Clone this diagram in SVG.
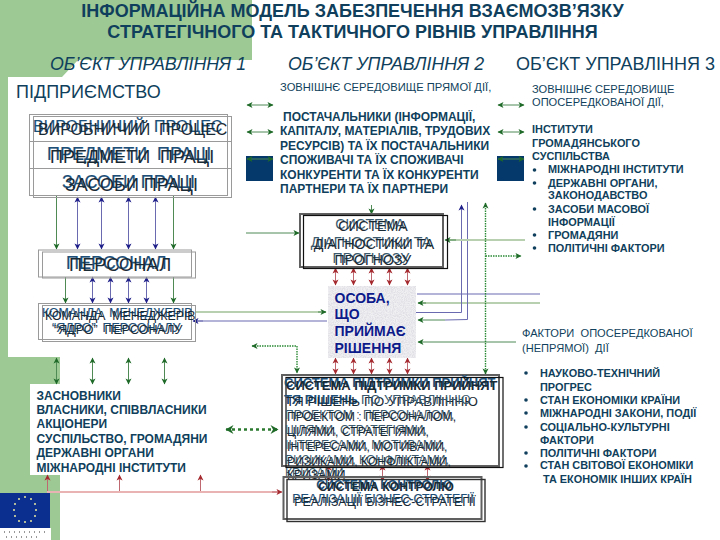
<svg xmlns="http://www.w3.org/2000/svg" width="720" height="540" viewBox="0 0 720 540">
<style>
text{font-family:"Liberation Sans",Arial,sans-serif;fill:#0f3f5c;white-space:pre}
.b{font-weight:bold}
.t1{fill:#1d4f78;stroke:#1d4f78;stroke-width:.2}
.t2{fill:#1a2a35}
.t3{fill:#3b5a6e}
.lab{font-size:12px;font-weight:bold}
.ext{font-size:10.9px;font-weight:bold}
.thin{font-size:11.1px}
.obj{font-size:18px}
.box{fill:none;stroke:#9a9a9a;stroke-width:1}
.gray{fill:none;stroke:#606060;stroke-width:2}
.blk{fill:none;stroke:#101010;stroke-width:1.2}
.g{fill:none;stroke:#4f8a55;stroke-width:1}
.bl{fill:none;stroke:#6a6ab0;stroke-width:1}
.pu{fill:none;stroke:#b4b4d8;stroke-width:2}
.lg{fill:none;stroke:#b9d0b0;stroke-width:2}
.r{fill:none;stroke:#c06870;stroke-width:1}
.pk{fill:none;stroke:#e9b3b3;stroke-width:2}
.d{fill:none;stroke:#2b8a35;stroke-width:1.4;stroke-dasharray:1.5 1}
.dd{fill:none;stroke:#2b7a30;stroke-width:2.4;stroke-dasharray:3 3}
.sq{fill:#05386b}
</style>
<defs>
<marker id="ag" markerWidth="7" markerHeight="7" refX="6" refY="3.5" orient="auto-start-reverse" markerUnits="userSpaceOnUse"><path d="M0.5 0.5L6.5 3.5L0.5 6.5L2 3.5Z" fill="#1f6a28"/></marker>
<marker id="ab" markerWidth="7" markerHeight="7" refX="6" refY="3.5" orient="auto-start-reverse" markerUnits="userSpaceOnUse"><path d="M0.5 0.5L6.5 3.5L0.5 6.5L2 3.5Z" fill="#1f1f8a"/></marker>
<marker id="ar" markerWidth="7" markerHeight="7" refX="6" refY="3.5" orient="auto-start-reverse" markerUnits="userSpaceOnUse"><path d="M0.5 0.5L6.5 3.5L0.5 6.5L2 3.5Z" fill="#a52a30"/></marker>
<marker id="agl" markerWidth="10" markerHeight="10" refX="8" refY="5" orient="auto-start-reverse" markerUnits="userSpaceOnUse"><path d="M0.5 0.5L8.5 5L0.5 9.5L3 5Z" fill="#1f6a28"/></marker>
<filter id="noise" x="0" y="0" width="100%" height="100%"><feTurbulence type="fractalNoise" baseFrequency="0.9" numOctaves="2" seed="4"/><feColorMatrix values="0 0 0 0 0.74 0 0 0 0 0.74 0 0 0 0 0.78 0 0 0 3 -1.1"/></filter>
</defs>

<g id="background">
<path d="M0 0H252V60H78L62 77H8V357H60V384H30V475H60V540H0Z" fill="#9cc994"/>
</g>
<g id="eu-flag">
<rect x="0" y="493" width="50" height="35" fill="#0b2f8f"/>
<rect x="0" y="528" width="51" height="12" fill="#ffffff"/>
<g fill="#e8e8a0"><circle cx="25" cy="497" r="1"/><circle cx="31" cy="499" r="1"/><circle cx="35" cy="504" r="1"/><circle cx="36" cy="510" r="1"/><circle cx="35" cy="516" r="1"/><circle cx="31" cy="521" r="1"/><circle cx="25" cy="522" r="1"/><circle cx="19" cy="521" r="1"/><circle cx="15" cy="516" r="1"/><circle cx="14" cy="510" r="1"/><circle cx="15" cy="504" r="1"/><circle cx="19" cy="499" r="1"/></g>
<path d="M4 532H48M6 537H40" stroke="#333" stroke-width="1.2" stroke-dasharray="1 4" fill="none"/>
</g>

<g id="heading">
<text class="b" x="352.5" y="17" font-size="18" text-anchor="middle">ІНФОРМАЦІЙНА МОДЕЛЬ ЗАБЕЗПЕЧЕННЯ ВЗАЄМОЗВ’ЯЗКУ</text>
<text class="b" x="352.5" y="38" font-size="18" text-anchor="middle">СТРАТЕГІЧНОГО ТА ТАКТИЧНОГО РІВНІВ УПРАВЛІННЯ</text>
<text class="obj" x="50" y="70" font-style="italic" style="font-size:17.8px">ОБ’ЄКТ УПРАВЛІННЯ 1</text>
<text class="obj" x="288" y="70" font-style="italic" style="font-size:17.8px">ОБ’ЄКТ УПРАВЛІННЯ 2</text>
<text class="obj" x="516" y="70">ОБ’ЄКТ УПРАВЛІННЯ 3</text>
<text x="16" y="98" font-size="18">ПІДПРИЄМСТВО</text>
</g>

<g id="connectors">
<path class="g" d="M56.5 196V249" marker-end="url(#ag)"/>
<path class="bl" d="M77.5 197V249" marker-start="url(#ab)" marker-end="url(#ab)"/>
<path class="bl" d="M101.5 197V249" marker-start="url(#ab)" marker-end="url(#ab)"/>
<path class="bl" d="M128.5 197V249" marker-start="url(#ab)" marker-end="url(#ab)"/>
<path class="bl" d="M155.5 197V249" marker-start="url(#ab)" marker-end="url(#ab)"/>
<path class="g" d="M173.5 196V249" marker-end="url(#ag)"/>
<path class="g" d="M65.5 277V303" marker-end="url(#ag)"/>
<path class="bl" d="M92.5 277V303" marker-start="url(#ab)" marker-end="url(#ab)"/>
<path class="bl" d="M110.5 277V303" marker-start="url(#ab)" marker-end="url(#ab)"/>
<path class="bl" d="M128.5 277V303" marker-start="url(#ab)" marker-end="url(#ab)"/>
<path class="bl" d="M146.5 277V303" marker-start="url(#ab)" marker-end="url(#ab)"/>
<path class="g" d="M173.5 277V303" marker-end="url(#ag)"/>
<path class="g" d="M56.5 358V384" marker-start="url(#ag)" marker-end="url(#ag)"/>
<path class="g" d="M92.5 358V384" marker-start="url(#ag)" marker-end="url(#ag)"/>
<path class="g" d="M128.5 358V384" marker-start="url(#ag)" marker-end="url(#ag)"/>
<path class="g" d="M164.5 358V384" marker-start="url(#ag)" marker-end="url(#ag)"/>
<path class="lg" d="M196 312H326"/>
<path class="g" d="M318 312H326" marker-end="url(#ag)"/>
<path class="pu" d="M327 321H194"/>
<path class="bl" d="M203 321H193" marker-end="url(#ab)"/>
<path class="r" d="M47.5 492V475" marker-end="url(#ar)"/>
<path class="r" d="M119.5 492V475" marker-end="url(#ar)"/>
<path class="r" d="M200.5 492V475" marker-end="url(#ar)"/>
<path class="pk" d="M47 492H280"/>
<path class="r" d="M272 492H282" marker-end="url(#ar)"/>
<path class="g" d="M246 233H299" stroke-width="1.4" marker-end="url(#ag)"/>
<path class="g" d="M371.5 205V214" marker-end="url(#ag)"/>
<path class="g" d="M247 105H273" marker-start="url(#ag)" marker-end="url(#ag)"/>
<path class="g" d="M247 132H273" marker-start="url(#ag)" marker-end="url(#ag)"/>
<path class="g" d="M498 105H524" marker-start="url(#ag)" marker-end="url(#ag)"/>
<path class="g" d="M498 132H524" marker-start="url(#ag)" marker-end="url(#ag)"/>
<path class="r" d="M335.5 268V285" marker-start="url(#ar)" marker-end="url(#ar)"/>
<path class="r" d="M353.5 268V285" marker-start="url(#ar)" marker-end="url(#ar)"/>
<path class="r" d="M371.5 268V285" marker-start="url(#ar)" marker-end="url(#ar)"/>
<path class="r" d="M389.5 268V285" marker-start="url(#ar)" marker-end="url(#ar)"/>
<path class="r" d="M407.5 268V285" marker-start="url(#ar)" marker-end="url(#ar)"/>
<path class="r" d="M335.5 358V374" marker-start="url(#ar)" marker-end="url(#ar)"/>
<path class="r" d="M353.5 358V374" marker-start="url(#ar)" marker-end="url(#ar)"/>
<path class="r" d="M371.5 358V374" marker-start="url(#ar)" marker-end="url(#ar)"/>
<path class="r" d="M389.5 358V374" marker-start="url(#ar)" marker-end="url(#ar)"/>
<path class="r" d="M407.5 358V374" marker-start="url(#ar)" marker-end="url(#ar)"/>
<path class="r" d="M328.5 465V481" marker-start="url(#ar)" marker-end="url(#ar)"/>
<path class="r" d="M382.5 465V481" marker-start="url(#ar)" marker-end="url(#ar)"/>
<path class="r" d="M427.5 465V481" marker-start="url(#ar)" marker-end="url(#ar)"/>
<path class="pu" d="M417 294H540"/>
<path class="lg" d="M540 303H418"/>
<path class="g" d="M426 303H418" marker-end="url(#ag)"/>
<path class="bl" d="M416 312.5H461.5V205" marker-end="url(#ab)"/>
<path class="bl" d="M467.5 202V319.5L445 320"/>
<path class="g" d="M445 320H418" marker-end="url(#ag)"/>
<path class="g" d="M516 342H418" marker-end="url(#ag)"/>
<path class="lg" d="M525 240H446"/>
<path class="g" d="M456 240H445" marker-end="url(#ag)"/>
<path class="d" d="M485.5 203V374" marker-start="url(#ag)" marker-end="url(#ag)"/>
<path class="d" d="M485.5 256H521" marker-end="url(#ag)"/>
<path class="d" d="M252 346H297V373" marker-start="url(#ag)" marker-end="url(#ag)"/>
<path class="dd" d="M226 429.5H278" marker-start="url(#agl)" marker-end="url(#agl)"/>
</g>

<g id="node-production">
<rect class="box" x="29.5" y="114.5" width="198" height="81"/>
<rect class="box" x="33.5" y="116.5" width="198" height="81"/>
<path class="box" d="M29.5 141.5H231M29.5 168.5H231"/>
<text class="t1" x="33" y="132" font-size="16">ВИРОБНИЧИЙ  ПРОЦЕС</text>
<text class="t2" x="38" y="135" font-size="16">ВИРОБНИЧИЙ  ПРОЦЕС</text>
<text class="t1" x="47" y="160" font-size="18">ПРЕДМЕТИ  ПРАЦІ</text>
<text class="t2" x="50" y="163" font-size="18">ПРЕДМЕТИ  ПРАЦІ</text>
<text class="t1" x="62" y="188" font-size="18">ЗАСОБИ ПРАЦІ</text>
<text class="t2" x="65" y="191" font-size="18">ЗАСОБИ ПРАЦІ</text>
</g>
<g id="node-staff">
<rect class="box" x="38.5" y="250" width="153" height="27"/>
<rect class="box" x="42.5" y="252" width="153" height="26"/>
<text class="t1" x="66" y="269" font-size="18">ПЕРСОНАЛ</text>
<text class="t2" x="69" y="271" font-size="18.3">ПЕРСОНАЛ</text>
</g>
<g id="node-team">
<rect class="box" x="38.5" y="303.5" width="153" height="36"/>
<rect class="box" x="42.5" y="305.5" width="153" height="36"/>
<text class="t1" x="42" y="317" font-size="12.3">КОМАНДА  МЕНЕДЖЕРІВ</text>
<text class="t2" x="45" y="320" font-size="12.3">КОМАНДА  МЕНЕДЖЕРІВ</text>
<text class="t1" x="52" y="332" font-size="12.5">“ЯДРО”  ПЕРСОНАЛУ</text>
<text class="t2" x="54" y="334" font-size="12.5">“ЯДРО”  ПЕРСОНАЛУ</text>
</g>
<g id="node-founders">
<text class="lab" x="36.5" y="400">ЗАСНОВНИКИ</text>
<text class="lab" x="36.5" y="414">ВЛАСНИКИ, СПІВВЛАСНИКИ</text>
<text class="lab" x="36.5" y="428">АКЦІОНЕРИ</text>
<text class="lab" x="36.5" y="443">СУСПІЛЬСТВО, ГРОМАДЯНИ</text>
<text class="lab" x="36.5" y="457">ДЕРЖАВНІ ОРГАНИ</text>
<text class="lab" x="36.5" y="472">МІЖНАРОДНІ ІНСТИТУТИ</text>
</g>
<g id="node-direct-env">
<rect class="sq" x="246" y="156" width="27" height="25"/>
<path class="g" d="M247 159H273" marker-start="url(#ag)" marker-end="url(#ag)"/>
<text x="280" y="91" font-size="11.2">ЗОВНІШНЄ СЕРЕДОВИЩЕ ПРЯМОЇ ДІЇ,</text>
<text class="lab" x="283" y="121">ПОСТАЧАЛЬНИКИ (ІНФОРМАЦІЇ,</text>
<text class="lab" x="280" y="135">КАПІТАЛУ, МАТЕРІАЛІВ, ТРУДОВИХ</text>
<text class="lab" x="280" y="150">РЕСУРСІВ) ТА ЇХ ПОСТАЧАЛЬНИКИ</text>
<text class="lab" x="280" y="164">СПОЖИВАЧІ ТА ЇХ СПОЖИВАЧІ</text>
<text class="lab" x="280" y="179">КОНКУРЕНТИ ТА ЇХ КОНКУРЕНТИ</text>
<text class="lab" x="280" y="193">ПАРТНЕРИ ТА ЇХ ПАРТНЕРИ</text>
</g>
<g id="node-indirect-env">
<rect class="sq" x="497" y="156" width="27" height="25"/>
<path class="g" d="M498 159H524" marker-start="url(#ag)" marker-end="url(#ag)"/>
<text class="thin" x="532" y="93">ЗОВНІШНЄ СЕРЕДОВИЩЕ</text>
<text class="thin" x="532" y="106">ОПОСЕРЕДКОВАНОЇ ДІЇ,</text>
<text class="ext" x="532" y="133">ІНСТИТУТИ</text>
<text class="ext" x="532" y="147">ГРОМАДЯНСЬКОГО</text>
<text class="ext" x="532" y="160">СУСПІЛЬСТВА</text>
<g fill="#0f3f5c"><circle cx="534.5" cy="170" r="1.8"/><circle cx="534.5" cy="183" r="1.8"/><circle cx="534.5" cy="209" r="1.8"/><circle cx="534.5" cy="235" r="1.8"/><circle cx="534.5" cy="248" r="1.8"/></g>
<text class="ext" x="548" y="173">МІЖНАРОДНІ ІНСТИТУТИ</text>
<text class="ext" x="548" y="187">ДЕРЖАВНІ ОРГАНИ,</text>
<text class="ext" x="548" y="199">ЗАКОНОДАВСТВО</text>
<text class="ext" x="548" y="213">ЗАСОБИ МАСОВОЇ</text>
<text class="ext" x="548" y="226">ІНФОРМАЦІЇ</text>
<text class="ext" x="548" y="239">ГРОМАДЯНИ</text>
<text class="ext" x="548" y="252">ПОЛІТИЧНІ ФАКТОРИ</text>
</g>
<g id="node-factors">
<text class="thin" x="522" y="337">ФАКТОРИ  ОПОСЕРЕДКОВАНОЇ</text>
<text class="thin" x="522" y="352">(НЕПРЯМОЇ)  ДІЇ</text>
<g fill="#0f3f5c"><circle cx="526" cy="373" r="1.8"/><circle cx="526" cy="400" r="1.8"/><circle cx="526" cy="413" r="1.8"/><circle cx="526" cy="427" r="1.8"/><circle cx="526" cy="453" r="1.8"/><circle cx="526" cy="466" r="1.8"/></g>
<text class="ext" x="540" y="377">НАУКОВО-ТЕХНІЧНИЙ</text>
<text class="ext" x="540" y="391">ПРОГРЕС</text>
<text class="ext" x="540" y="404">СТАН ЕКОНОМІКИ КРАЇНИ</text>
<text class="ext" x="540" y="417">МІЖНАРОДНІ ЗАКОНИ, ПОДІЇ</text>
<text class="ext" x="540" y="431">СОЦІАЛЬНО-КУЛЬТУРНІ</text>
<text class="ext" x="540" y="444">ФАКТОРИ</text>
<text class="ext" x="540" y="457">ПОЛІТИЧНІ ФАКТОРИ</text>
<text class="ext" x="540" y="469">СТАН СВІТОВОЇ ЕКОНОМІКИ</text>
<text class="ext" x="543" y="483">ТА ЕКОНОМІК ІНШИХ КРАЇН</text>
</g>
<g id="node-diagnostics">
<rect class="gray" x="300" y="214" width="143" height="53"/>
<rect class="blk" x="303.5" y="215.5" width="144" height="53"/>
<g font-size="14.2" text-anchor="middle">
<text x="370" y="229" class="t3">СИСТЕМА</text>
<text x="373" y="231" class="t2">СИСТЕМА</text>
<text x="371" y="247" class="t3">ДІАГНОСТИКИ ТА</text>
<text x="374" y="249" class="t2">ДІАГНОСТИКИ ТА</text>
<text x="371" y="263" class="t3">ПРОГНОЗУ</text>
<text x="373" y="265" class="t2">ПРОГНОЗУ</text>
</g>
</g>
<g id="node-decision-maker">
<rect x="328" y="286" width="88" height="72" fill="#f0f0f3"/>
<rect x="328" y="286" width="88" height="72" filter="url(#noise)"/>
<g font-size="14" class="b">
<text x="334.5" y="303" style="fill:#0d1a8a">ОСОБА,</text>
<text x="334.5" y="319" style="fill:#0d1a8a">ЩО</text>
<text x="334.5" y="336" style="fill:#0d1a8a">ПРИЙМАЄ</text>
<text x="334.5" y="353" style="fill:#0d1a8a">РІШЕННЯ</text>
</g>
</g>
<g id="node-support">
<rect class="gray" x="282" y="375" width="217" height="91"/>
<rect class="blk" x="286" y="377.5" width="217" height="90"/>
<text class="b" x="284" y="387" font-size="13" style="fill:#1d4f78">СИСТЕМА ПІДТРИМКИ ПРИЙНЯТ</text>
<text class="b" x="286" y="390" font-size="13" style="fill:#1a2a35">СИСТЕМА ПІДТРИМКИ ПРИЙНЯТ</text>
<text class="b" x="284" y="404" font-size="13" style="fill:#1d4f78">ТЯ РІШЕНЬ</text>
<text class="t2" x="286" y="406" font-size="13.5">ТЯ РІШЕНЬ ПО УПРАВЛІННЮ</text>
<text class="t3" x="361" y="404" font-size="13">ПО УПРАВЛІННЮ</text>
<g font-size="12.2">
<text class="t3" x="285" y="419">ПРОЕКТОМ : ПЕРСОНАЛОМ,</text>
<text class="t2" x="287" y="421">ПРОЕКТОМ : ПЕРСОНАЛОМ,</text>
<text class="t3" x="285" y="434">ЦІЛЯМИ, СТРАТЕГІЯМИ,</text>
<text class="t2" x="287" y="436">ЦІЛЯМИ, СТРАТЕГІЯМИ,</text>
<text class="t3" x="285" y="449">ІНТЕРЕСАМИ, МОТИВАМИ,</text>
<text class="t2" x="287" y="451">ІНТЕРЕСАМИ, МОТИВАМИ,</text>
<text class="t3" x="285" y="464">РИЗИКАМИ, КОНФЛІКТАМИ,</text>
<text class="t2" x="287" y="466">РИЗИКАМИ, КОНФЛІКТАМИ,</text>
<text class="t3" x="285" y="477">КРИЗАМИ</text>
<text class="t2" x="287" y="479">КРИЗАМИ</text>
</g>
</g>
<g id="node-control">
<rect class="gray" x="283.5" y="477" width="198" height="42"/>
<rect class="gray" x="287" y="479.5" width="198" height="42" style="stroke:#303030;stroke-width:1.4"/>
<g text-anchor="middle">
<text x="384" y="489" font-size="12.2" class="b" style="fill:#1d4f78">СИСТЕМА КОНТРОЛЮ</text>
<text x="386" y="491" font-size="12.2" class="b" style="fill:#1a2a35">СИСТЕМА КОНТРОЛЮ</text>
<text x="383" y="503" font-size="12.4" class="t1">РЕАЛІЗАЦІЇ БІЗНЕС-СТРАТЕГІЇ</text>
<text x="385" y="506" font-size="12.4" class="t2">РЕАЛІЗАЦІЇ БІЗНЕС-СТРАТЕГІЇ</text>
</g>
</g>
</svg>
